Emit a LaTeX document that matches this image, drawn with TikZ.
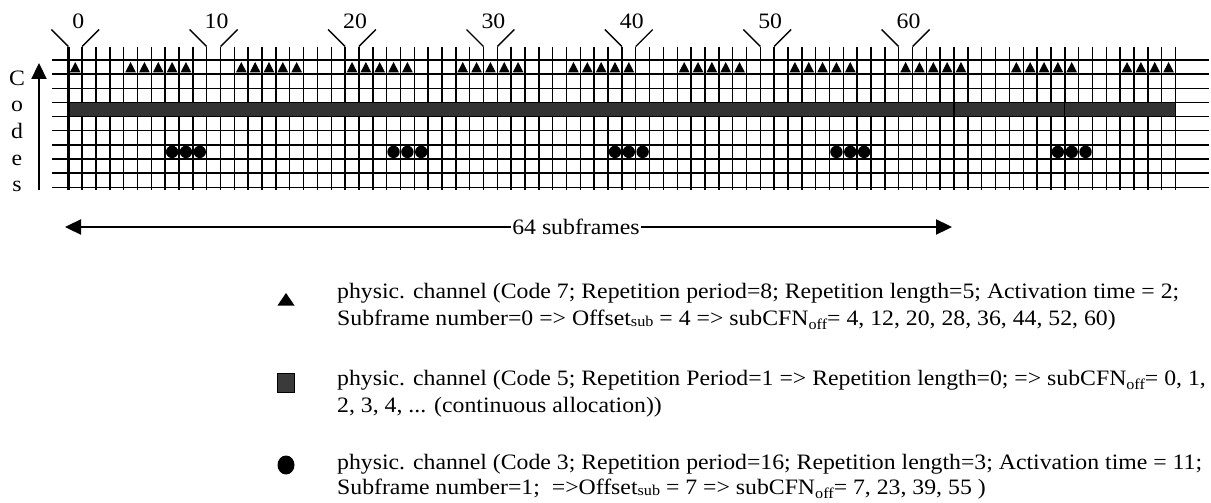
\documentclass[tikz,border=0pt]{standalone}
\usepackage{fontspec}
\setmainfont{Liberation Serif}[FakeStretch=1.08]
\usetikzlibrary{arrows.meta}
\definecolor{barcol}{HTML}{333333}
\definecolor{legcol}{HTML}{3A3A3A}
\newcommand{\subsm}[1]{\raisebox{-1pt}{\fontsize{15}{15}\selectfont #1}}
\newcommand{\subof}[1]{\raisebox{-4pt}{\fontsize{15}{15}\selectfont #1}}
\begin{document}
\begin{tikzpicture}[x=1pt,y=-1pt,
  gridline/.style={line width=1.5pt},
  gridthick/.style={line width=2.7pt},
  barbox/.style={fill=barcol,draw=black,line width=1pt},
  tick/.style={line width=1.4pt},
  lbl/.style={font=\fontsize{22}{26}\selectfont,inner sep=0pt},
  legtext/.style={font=\fontsize{22}{27}\selectfont,inner sep=0pt,anchor=base west},
  bigarrow/.style={line width=2.3pt,-{Triangle[length=16pt,width=15pt]}},
  dblarrow/.style={line width=2.3pt,{Triangle[length=16pt,width=15pt]}-{Triangle[length=16pt,width=15pt]}}
]
\useasboundingbox (0,0) rectangle (1211,503);
\def\xo{68.3}
\def\dx{13.84}
% horizontal grid lines
\foreach \j in {0,...,9}
  \draw[gridline] (52,{60+14.14*\j}) -- (1209,{60+14.14*\j});
% vertical grid lines
\foreach \i in {1,...,80}
  \draw[gridline] ({\xo+\dx*\i},46.7) -- ({\xo+\dx*\i},190);
% continuous channel bar
\draw[barbox] ({\xo},102.4) rectangle ({\xo+\dx*72},116.6);
\draw[barbox] ({\xo+\dx*72},102.4) rectangle ({\xo+\dx*80},116.6);
% thick frame lines
\draw[gridthick] ({\xo},46.7) -- ({\xo},190);
\draw[gridthick] ({\xo+\dx*64},46.7) -- ({\xo+\dx*64},190);
% triangles (code 7)
\foreach \c in {0,4,5,6,7,8,12,13,14,15,16,20,21,22,23,24,28,29,30,31,32,36,37,38,39,40,44,45,46,47,48,52,53,54,55,56,60,61,62,63,64,68,69,70,71,72,76,77,78,79}
  \fill ({\xo+\dx*(\c+0.5)-5.3},72.3) -- ({\xo+\dx*(\c+0.5)},62) -- ({\xo+\dx*(\c+0.5)+5.3},72.3) -- cycle;
% circles (code 3)
\foreach \c in {7,8,9,23,24,25,39,40,41,55,56,57,71,72,73}
  \fill ({\xo+\dx*(\c+0.5)},151.9) circle[radius=6.2];
% subframe ticks and numbers
\foreach \k in {0,10,...,60}{
  \draw[tick] ({\xo+\dx*\k-17},29.5) -- ({\xo+\dx*\k},46.5);
  \draw[tick] ({\xo+\dx*(\k+1)},46.5) -- ({\xo+\dx*(\k+1)+17},29.5);
  \node[lbl,anchor=base] (n\k) at ({\xo+\dx*(\k+0.5)+3},29) {\k};
}
% Codes axis
\coordinate (cb) at (39,190);
\coordinate (ct) at (39,63);
\draw[bigarrow] (cb) -- (ct);
\node[lbl,anchor=base] (lC) at (17,85) {C};
\node[lbl,anchor=base] (lo) at (17,111.7) {o};
\node[lbl,anchor=base] (ld) at (17,138.3) {d};
\node[lbl,anchor=base] (le) at (17,165) {e};
\node[lbl,anchor=base] (ls) at (17,191.7) {s};
% 64 subframes arrow
\coordinate (sl) at (65,227);
\coordinate (sr) at (952,227);
\draw[dblarrow] (sl) -- (sr);
\node[lbl,fill=white,inner xsep=1pt,inner ysep=3pt,anchor=base] (sub) at (576,234) {64 subframes};
% legend
\fill (277.5,305.5) -- (286,293) -- (294.5,305.5) -- cycle;
\node[legtext] (t1) at (337,298.5) {physic. channel (Code 7; Repetition period=8; Repetition length=5; Activation time = 2;};
\node[legtext] (t2) at (337,325.5) {Subframe number=0 => Offset\subsm{sub} = 4 => subCFN\subof{off}= 4, 12, 20, 28, 36, 44, 52, 60)};
\draw[fill=legcol,draw=black,line width=1pt] (277.5,373) rectangle (294.5,392.5);
\node[legtext] (t3) at (337,385) {physic. channel (Code 5; Repetition Period=1 => Repetition length=0; => subCFN\subof{off}= 0, 1,};
\node[legtext] (t4) at (337,412) {2, 3, 4, ... (continuous allocation))};
\fill (286,465) ellipse[x radius=8.5,y radius=9.5];
\node[legtext] (t5) at (337,469) {physic. channel (Code 3; Repetition period=16; Repetition length=3; Activation time = 11;};
\node[legtext] (t6) at (337,494.5) {Subframe number=1;~ =>Offset\subsm{sub} = 7 => subCFN\subof{off}= 7, 23, 39, 55 )};
\end{tikzpicture}
\end{document}
